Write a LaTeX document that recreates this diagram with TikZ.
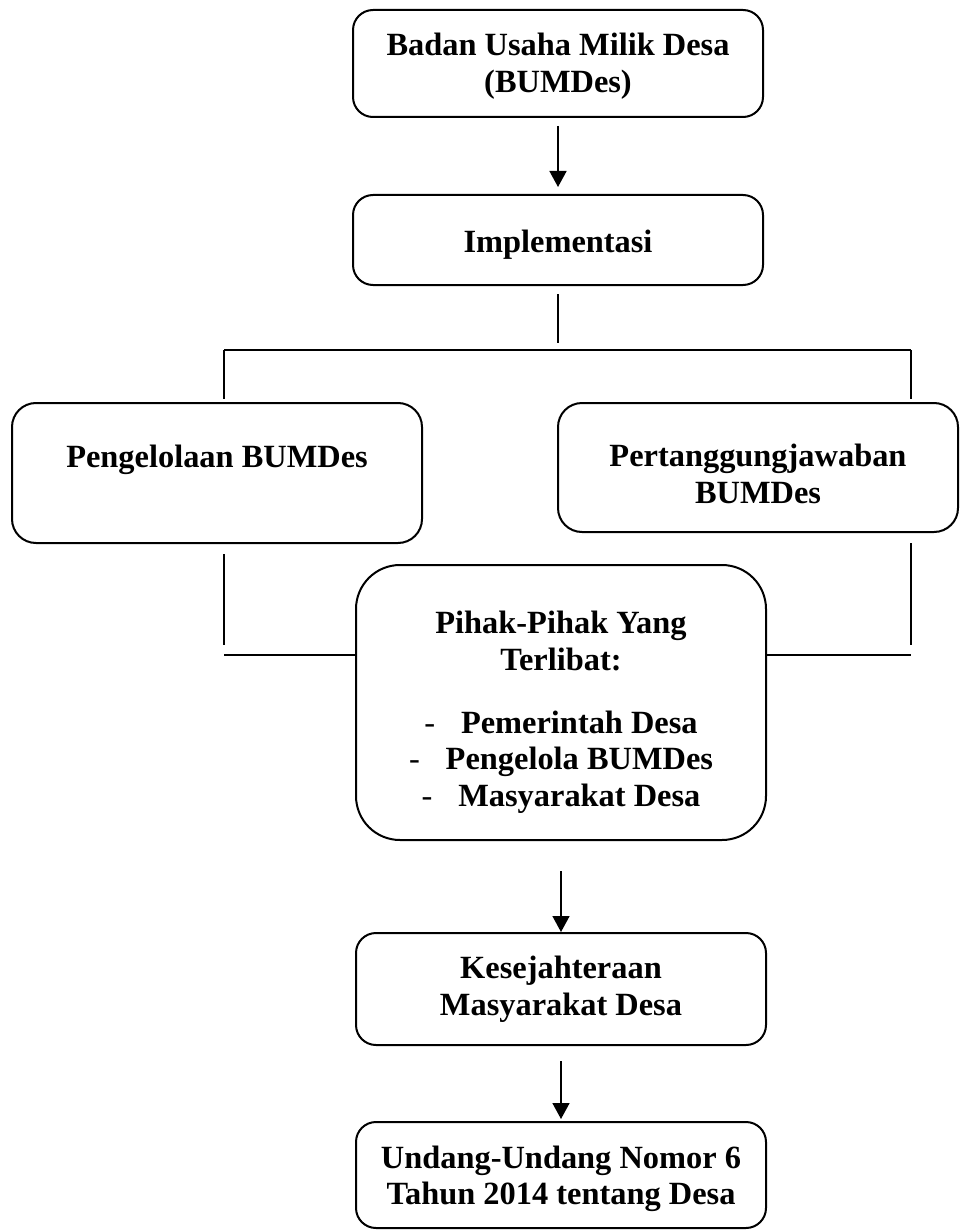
\documentclass[tikz,border=0pt]{standalone}
\usepackage{fontspec}
\setmainfont{Liberation Serif}
\usetikzlibrary{arrows.meta}
\newcommand\tallstrut[1]{\rule{0pt}{#1}}
\tikzset{
  box/.style={draw, line width=1pt, rounded corners=10pt, align=center, inner sep=0pt,
    font=\fontsize{16.2}{18.4}\selectfont\bfseries, minimum width=205pt},
  conn/.style={line width=0.8pt},
  arr/.style={line width=0.8pt, -{Triangle[length=8pt,width=8.5pt]}},
}
\begin{document}
\begin{tikzpicture}[x=0.5pt, y=-0.5pt]
\useasboundingbox (0,0) rectangle (959,1230);
\node[box, minimum height=53.5pt] (b1) at (558,63.5) {\tallstrut{14pt}Badan Usaha Milik Desa\\(BUMDes)};
\node[box, minimum height=45pt] (b2) at (558,240) {\tallstrut{16pt}Implementasi};
\node[box, minimum height=70pt, rounded corners=12pt] (b3) at (217,473) {\tallstrut{18pt}Pengelolaan BUMDes\\\strut};
\node[box, minimum height=64.5pt, minimum width=200pt, rounded corners=12pt] (b4) at (758,467.5) {\tallstrut{18pt}Pertanggungjawaban\\BUMDes};
\node[box, minimum height=137.5pt, rounded corners=22pt] (b5) at (561,702.5)
  {\tallstrut{21pt}Pihak-Pihak Yang\\Terlibat:\\[13pt]
   {\mdseries -}\hspace{0.8em}Pemerintah Desa\\
   {\mdseries -}\hspace{0.8em}Pengelola BUMDes\\
   {\mdseries -}\hspace{0.8em}Masyarakat Desa};
\node[box, minimum height=56pt] (b6) at (561,989) {Kesejahteraan\\Masyarakat Desa};
\node[box, minimum height=53pt] (b7) at (561,1175) {\tallstrut{15pt}Undang-Undang Nomor 6\\Tahun 2014 tentang Desa};

\coordinate (hl) at (224,350);
\coordinate (hr) at (911,350);
\coordinate (ll) at (224,655);
\coordinate (lr) at (911,655);

\draw[arr] ([yshift=-4pt]b1.south) -- ([yshift=3.5pt]b2.north);
\draw[conn] ([yshift=-4pt]b2.south) -- ([yshift=3.5pt]b2.south |- hl);
\draw[conn] (hl) -- (hr);
\draw[conn] (hl) -- ([yshift=1.5pt]b3.north -| hl);
\draw[conn] (hr) -- ([yshift=1.5pt]b4.north -| hr);
\draw[conn] ([yshift=-5pt]b3.south -| ll) -- ([yshift=5pt]ll);
\draw[conn] (ll) -- (ll -| b5.west);
\draw[conn] ([yshift=-5pt]b4.south -| lr) -- ([yshift=5pt]lr);
\draw[conn] (lr -| b5.east) -- (lr);
\draw[arr] ([yshift=-15pt]b5.south) -- (b6.north);
\draw[arr] ([yshift=-7.5pt]b6.south) -- ([yshift=1pt]b7.north);
\end{tikzpicture}
\end{document}
